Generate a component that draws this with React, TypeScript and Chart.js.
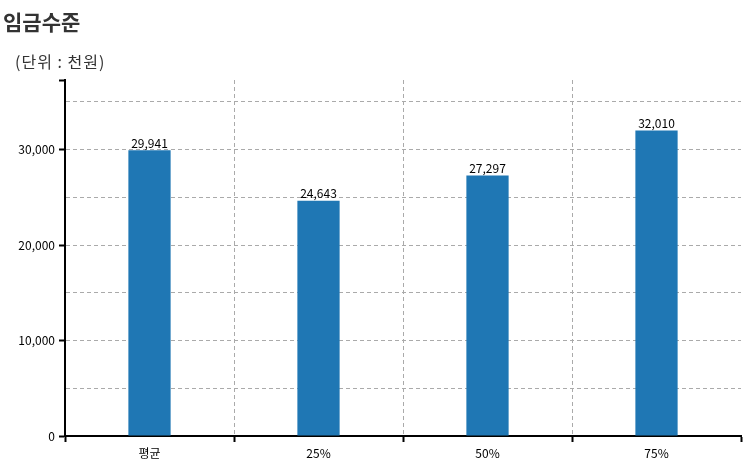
import React, { useEffect, useRef } from "react";
import { Chart, registerables } from "chart.js";

Chart.register(...registerables);

const categories = ["평균", "25%", "50%", "75%"];
const wages = [29941, 24643, 27297, 32010];
const yMax = 37300;
const yTickValues = [0, 5000, 10000, 15000, 20000, 25000, 30000, 35000, 37300];
const titleText = "임금수준";
const unitText = "(단위 : 천원)";

const FONT = "'Noto Sans CJK KR', 'Noto Sans', sans-serif";

const labelPlugin = {
  id: "barLabels",
  afterDatasetsDraw(chart: any) {
    const ctx = chart.ctx;
    const meta = chart.getDatasetMeta(0);
    ctx.save();
    ctx.font = `12px ${FONT}`;
    ctx.fillStyle = "#000";
    ctx.textAlign = "center";
    ctx.textBaseline = "bottom";
    meta.data.forEach((bar: any, i: number) => {
      ctx.fillText(wages[i].toLocaleString("en-US"), bar.x, bar.y - 1);
    });
    ctx.restore();
  },
};

export default function App() {
  const ref = useRef<HTMLCanvasElement>(null);
  useEffect(() => {
    if (!ref.current) return;
    const chart = new Chart(ref.current, {
      type: "bar",
      data: {
        labels: categories,
        datasets: [
          {
            data: wages,
            backgroundColor: "#1f77b4",
            categoryPercentage: 1,
            barPercentage: 0.25,
          },
        ],
      },
      options: {
        animation: false,
        responsive: false,
        maintainAspectRatio: false,
        layout: { padding: { left: 0, top: 80, right: 10, bottom: 0 } },
        plugins: { legend: { display: false }, tooltip: { enabled: false } },
        scales: {
          x: {
            offset: true,
            grid: {
              offset: true,
              color: (c: any) => (c.index === undefined || c.index === 0 ? "transparent" : "#aaa"),
              lineWidth: 1,
              tickColor: "#000",
              tickLength: 6,
              tickWidth: 2,
            },
            border: { display: true, color: "#000", width: 2, dash: [4, 3] },
            ticks: { color: "#000", font: { family: FONT, size: 12 }, padding: 4 },
            afterFit: (s: any) => {
              s.height = 34;
            },
          },
          y: {
            min: 0,
            max: yMax,
            afterBuildTicks: (s: any) => {
              s.ticks = yTickValues.map((v) => ({ value: v }));
            },
            ticks: {
              color: "#000",
              font: { family: FONT, size: 12 },
              padding: 4,
              callback: (v: any) => (v % 10000 === 0 ? Number(v).toLocaleString("en-US") : ""),
            },
            grid: {
              color: (c: any) => {
                const v = c.tick ? c.tick.value : 0;
                if (v === 0 || v === yMax) return "transparent";
                return "#aaa";
              },
              lineWidth: 1,
              tickColor: (c: any) => {
                const v = c.tick ? c.tick.value : 1;
                return v % 10000 === 0 || v === yMax ? "#000" : "transparent";
              },
              tickLength: 6,
              tickWidth: 2,
            },
            border: { display: true, color: "#000", width: 2, dash: [4, 3] },
            afterFit: (s: any) => {
              s.width = 65;
            },
          },
        },
      },
      plugins: [labelPlugin],
    });
    return () => chart.destroy();
  }, []);

  return (
    <div style={{ position: "fixed", left: 0, top: 0, width: 751, height: 470, background: "#fff" }}>
      <canvas ref={ref} width={751} height={470} style={{ position: "absolute", left: 0, top: 0 }} />
      <div
        style={{
          position: "absolute",
          left: 3,
          top: 6,
          fontFamily: FONT,
          fontWeight: 700,
          fontSize: 21,
          color: "#333",
          lineHeight: "30px",
        }}
      >
        {titleText}
      </div>
      <div
        style={{
          position: "absolute",
          left: 15,
          top: 49,
          fontFamily: FONT,
          fontSize: 16,
          color: "#333",
          lineHeight: "24px",
          letterSpacing: 1,
        }}
      >
        {unitText}
      </div>
    </div>
  );
}
